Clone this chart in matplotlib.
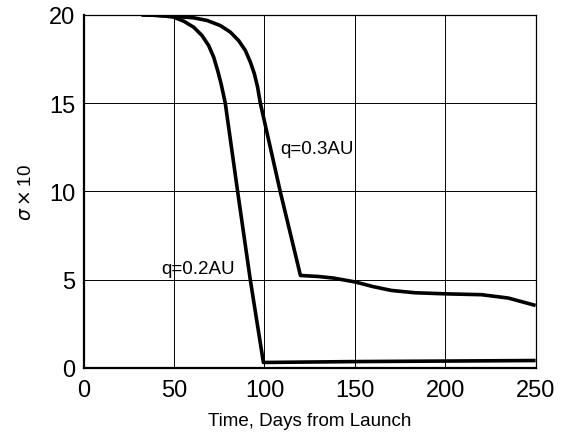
import matplotlib.pyplot as plt

# values
q02_days = [32, 40, 45, 49.7, 55.3, 60.8, 65.4, 69.1, 71.9, 74.1, 76.0, 77.4, 78.3,
            85.2, 92.2, 99.4, 150, 200, 250]
q02_sigma = [20.0, 19.97, 19.93, 19.87, 19.64, 19.3, 18.83, 18.26, 17.6, 16.84, 16.09, 15.43, 15.0,
             9.95, 4.95, 0.3, 0.35, 0.38, 0.41]

q03_days = [32, 40, 45, 51.6, 60.8, 68.2, 75.6, 81.1, 85.7, 89.4, 92.2, 94.4, 96.2, 97.7,
            108.8, 119.9, 130, 138.3, 150.3, 160, 170.3, 183.2, 199.8, 220.1, 234.9, 250]
q03_sigma = [20.0, 19.97, 19.94, 19.9, 19.83, 19.68, 19.39, 19.02, 18.54, 17.98, 17.32, 16.66, 15.9, 15.0,
             9.95, 5.23, 5.17, 5.08, 4.86, 4.6, 4.38, 4.25, 4.19, 4.14, 3.95, 3.53]

x_ticks = [0, 50, 100, 150, 200, 250]
y_ticks = [0, 5, 10, 15, 20]

plt.rcParams['font.family'] = ['Liberation Sans', 'DejaVu Sans']

fig = plt.figure(figsize=(5.62, 4.39), dpi=100)
ax = fig.add_axes([0.149, 0.16, 0.804, 0.804])

ax.plot(q02_days, q02_sigma, color='black', lw=2.6, solid_capstyle='butt')
ax.plot(q03_days, q03_sigma, color='black', lw=2.6, solid_capstyle='butt')

ax.set_xlim(0, 250)
ax.set_ylim(0, 20)
ax.set_xticks(x_ticks)
ax.set_yticks(y_ticks)
ax.grid(True, color='black', lw=0.7)
ax.tick_params(length=0, labelsize=17)
ax.tick_params(axis='x', pad=8)
ax.tick_params(axis='y', pad=6)
for s in ax.spines.values():
    s.set_linewidth(0.9)
ax.spines['left'].set_linewidth(1.6)
ax.spines['bottom'].set_linewidth(1.6)

ax.text(129, 12.4, 'q=0.3AU', fontsize=13.5, ha='center', va='center')
ax.text(63, 5.6, 'q=0.2AU', fontsize=13.5, ha='center', va='center')

ax.set_xlabel('Time, Days from Launch', fontsize=13.5, labelpad=8)
ax.set_ylabel(r'$\sigma\times$10', fontsize=13.5, labelpad=10)

plt.savefig('out.png', dpi=100)
